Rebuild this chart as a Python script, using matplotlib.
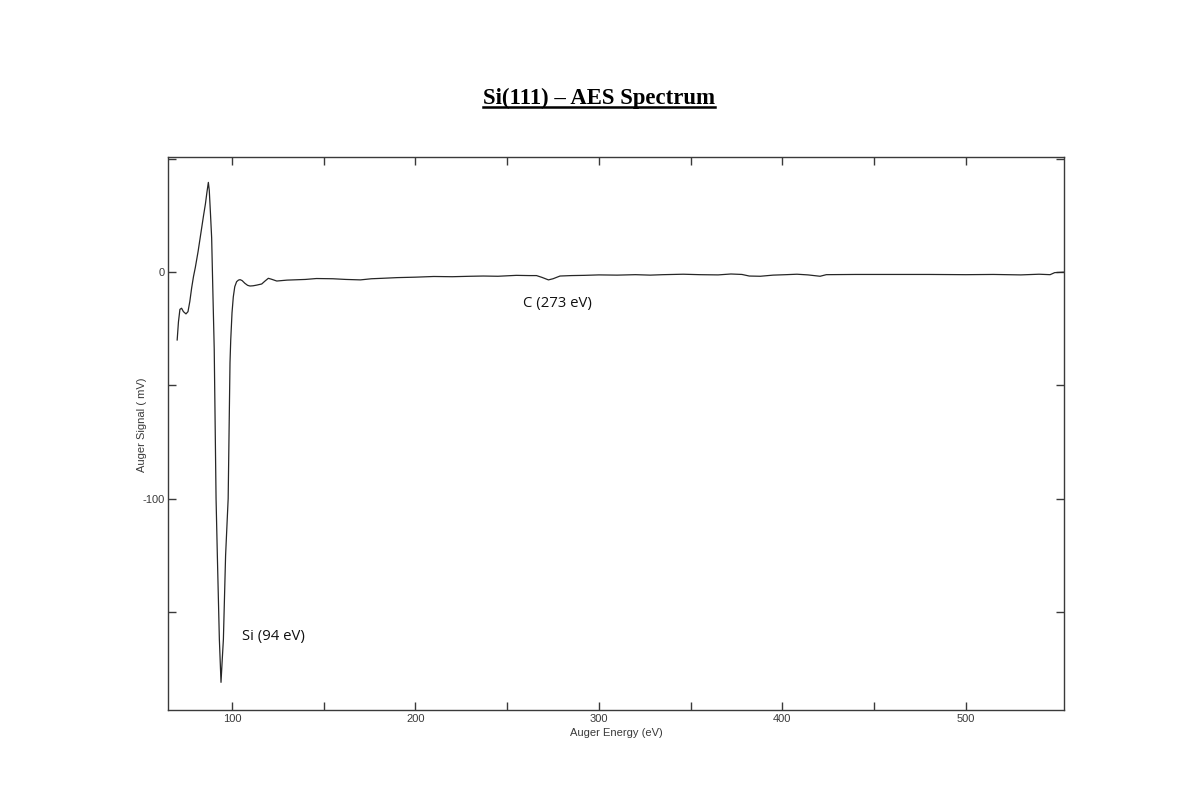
import matplotlib
matplotlib.use("Agg")
import matplotlib.pyplot as plt
from matplotlib.ticker import FixedLocator
from matplotlib.lines import Line2D

plt.rcParams['axes.unicode_minus'] = False

# Auger energy (eV) and signal (mV)
energy = [70.1, 70.8, 71.6, 72.5, 73.5, 74.9, 76.0, 77.0, 78.0, 79.0, 80.0, 81.5, 83.0,
          84.5, 85.5, 86.3, 87.1, 87.6, 88.3, 88.9, 89.6, 90.3, 91.3, 92.0, 93.1, 94.0,
          94.6, 95.3, 96.5, 97.9, 98.9, 99.3, 100.0, 100.7, 101.5, 102.5, 103.5, 104.4,
          105.5, 107.0, 108.5, 109.8, 111.5, 113.5, 116.2, 118.0, 119.8, 121.5, 124.4,
          130, 140, 146, 155, 162, 170, 176, 182, 190, 200, 210, 220, 230, 237, 245,
          255, 262, 266, 269, 272.5, 275, 278.8, 285, 292, 300, 310, 320, 328, 335,
          346, 355, 365, 372, 378, 382, 388, 395, 402, 408, 414, 420.6, 424, 440, 460,
          480, 500, 515, 530, 540, 546, 548.5, 553.5]
signal = [-30, -22, -16.5, -16, -17.5, -18.5, -17.5, -13, -7, -2, 2, 9, 17,
          25, 30, 35, 39.5, 36, 25, 15, -10, -34, -100, -125, -162, -181,
          -172, -162, -125, -100, -40, -30, -18, -11, -6.5, -4.3, -3.6, -3.4,
          -3.8, -5.0, -5.9, -6.2, -6.1, -5.8, -5.3, -4.0, -2.8, -3.2, -4.0,
          -3.6, -3.3, -2.9, -3.0, -3.3, -3.5, -3.0, -2.8, -2.5, -2.3, -2.0, -2.1, -1.9, -1.8, -1.9,
          -1.5, -1.6, -1.6, -2.4, -3.5, -3.0, -1.8, -1.6, -1.5, -1.3, -1.4, -1.2, -1.4, -1.2,
          -1.0, -1.2, -1.3, -0.9, -1.1, -1.8, -1.9, -1.4, -1.2, -1.0, -1.3, -1.9, -1.2, -1.1, -1.1,
          -1.1, -1.2, -1.1, -1.3, -1.0, -1.2, -0.3, -0.1]

peak_labels = ["Si (94 eV)", "C (273 eV)"]
peak_label_pos = [(105.5, -160.8), (258.7, -14.1)]

x_major = [100, 200, 300, 400, 500]
x_minor = [150, 250, 350, 450]
y_major = [-100, 0]
y_minor = [-150, -50, 50]

axis_col = '#3a3a3a'
text_col = '#3a3a3a'

fig = plt.figure(figsize=(12, 8), dpi=100)
ax = fig.add_axes([0.14, 0.1125, 0.7467, 0.69125])

ax.plot(energy, signal, color='#262626', lw=0.9)

ax.set_xlim(65.1, 553.6)
ax.set_ylim(-193.2, 50.7)

ax.xaxis.set_major_locator(FixedLocator(x_major))
ax.xaxis.set_minor_locator(FixedLocator(x_minor))
ax.yaxis.set_major_locator(FixedLocator(y_major))
ax.yaxis.set_minor_locator(FixedLocator(y_minor))
ax.tick_params(which='both', direction='in', top=True, right=True, length=6,
               width=1, color=axis_col, labelsize=8, labelcolor=text_col, pad=2)
ax.tick_params(axis='x', pad=3)
for s in ax.spines.values():
    s.set_color(axis_col)
    s.set_linewidth(1)

for t in ax.get_xticklabels() + ax.get_yticklabels():
    t.set_family('Liberation Sans')

ax.set_xlabel("Auger Energy (eV)", fontsize=8, family='Liberation Sans', color=text_col, labelpad=2.5)
ax.set_ylabel("Auger Signal ( mV)", fontsize=8, family='Liberation Sans', color=text_col)
ax.yaxis.set_label_coords(-0.0234, 0.515)

for lab, (px, py) in zip(peak_labels, peak_label_pos):
    ax.text(px, py, lab, fontsize=10.7, family='Open Sans', color='#111111',
            ha='left', va='center')

title = fig.text(0.4995, 0.8775, "Si(111) – AES Spectrum", fontsize=16.4, fontweight='bold',
                 family='Liberation Serif', ha='center', va='center', color='black')

fig.canvas.draw()
bb = title.get_window_extent(renderer=fig.canvas.get_renderer())
inv = fig.transFigure.inverted()
(x0, y0), (x1, y1) = inv.transform([(bb.x0, bb.y0), (bb.x1, bb.y1)])
uy = y0 + 0.0025
fig.add_artist(Line2D([x0, x1], [uy, uy], transform=fig.transFigure, color='black', lw=1.8))

fig.savefig("out.png", dpi=100, facecolor='white')
